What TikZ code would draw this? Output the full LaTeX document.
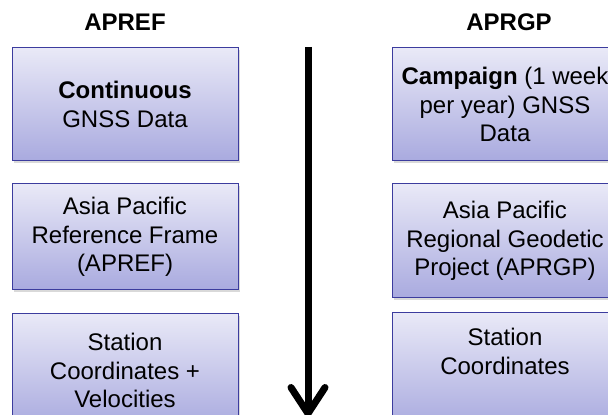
\documentclass[tikz,border=0pt]{standalone}
\usepackage{fontspec}
\setmainfont{Liberation Sans}
\usetikzlibrary{arrows.meta, positioning, shadows}

\definecolor{boxtop}{HTML}{E9E9F7}
\definecolor{boxbot}{HTML}{A9AADF}
\definecolor{boxline}{HTML}{3C3C9E}

\tikzset{
  databox/.style={draw=boxline, line width=0.5pt,
    top color=boxtop, bottom color=boxbot,
    drop shadow={shadow xshift=0.8pt, shadow yshift=-0.8pt, opacity=0.3},
    minimum width=113pt, align=center, inner sep=2pt},
  hdr/.style={font=\fontsize{12}{14.25}\selectfont\bfseries, inner sep=0pt}
}

\begin{document}
\begin{tikzpicture}[x=1pt, y=1pt, font=\fontsize{12}{14.25}\selectfont]

\clip (0,0) rectangle (304,207.5);

% Left column
\node[databox,
    minimum height=56.5pt] (apref1) at (62.5,155.25) {\textbf{Continuous}\\GNSS Data};

\node[databox,
    below=11pt of apref1,
    minimum height=53pt] (apref2) {Asia Pacific\\Reference Frame\\(APREF)};

\node[databox,
    below=11.5pt of apref2,
    minimum height=56.5pt] (apref3) {Station\\Coordinates +\\Velocities};

% Right column
\node[databox,
    right=76.5pt of apref1,
    minimum height=56.5pt] (aprgp1) {\textbf{Campaign} (1 week\\per year) GNSS\\Data};

\node[databox,
    below=11pt of aprgp1,
    minimum height=57pt] (aprgp2) {Asia Pacific\\Regional Geodetic\\Project (APRGP)};

\node[databox,
    below=7pt of aprgp2,
    minimum height=57pt] (aprgp3) {Station\\Coordinates\\\strut};

% Headings
\node[hdr, above=8.25pt of apref1] (hdrapref) {APREF};
\node[hdr, above=8.25pt of aprgp1, xshift=2pt] (hdraprgp) {APRGP};

% Arrow
\coordinate (arrtop) at (154,184);
\coordinate (arrend) at (154,-1);
\draw[line width=3.5pt,
    -{Straight Barb[length=13pt, width=17pt, round]}] (arrtop) -- (arrend);

\end{tikzpicture}
\end{document}
